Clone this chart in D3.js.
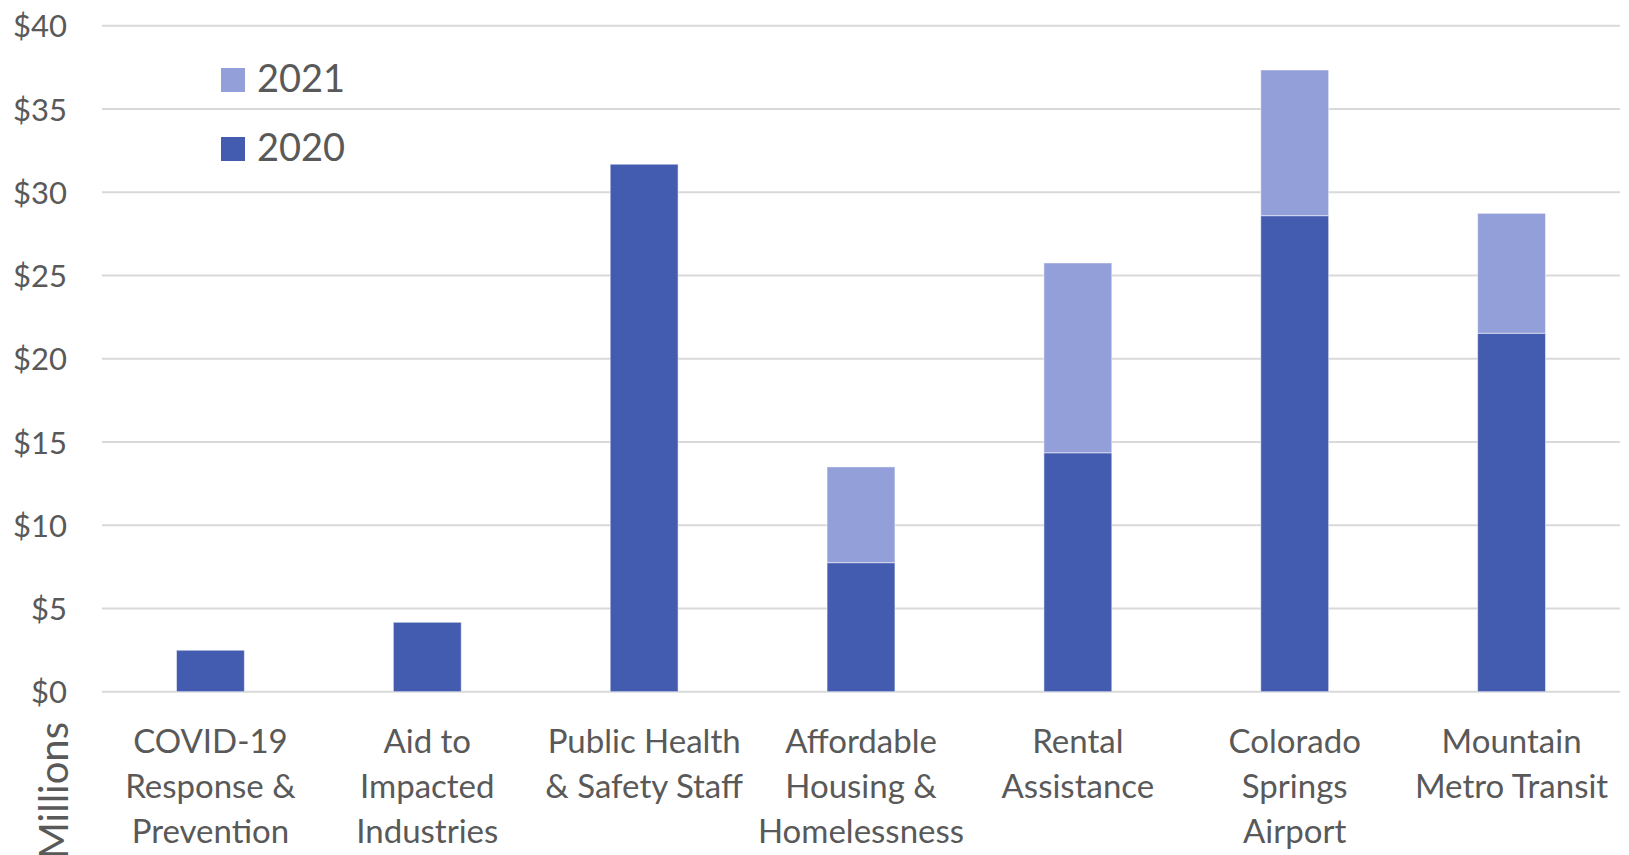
<!DOCTYPE html>
<html>
<head>
<meta charset="utf-8">
<script src="https://cdn.jsdelivr.net/npm/d3@7"></script>
<style>
  body { margin: 0; background: #fff; }
  svg text { font-family: Lato, "Open Sans", sans-serif; fill: #595959; }
</style>
</head>
<body>
<div id="chart"></div>
<script>
var width = 1629;
var height = 855;

// data, in millions of dollars
var categories = ["COVID-19 Response & Prevention", "Aid to Impacted Industries",
  "Public Health & Safety Staff", "Affordable Housing & Homelessness",
  "Rental Assistance", "Colorado Springs Airport", "Mountain Metro Transit"];
var labelLines = [
  ["COVID-19", "Response &", "Prevention"],
  ["Aid to", "Impacted", "Industries"],
  ["Public Health", "& Safety Staff"],
  ["Affordable", "Housing &", "Homelessness"],
  ["Rental", "Assistance"],
  ["Colorado", "Springs", "Airport"],
  ["Mountain", "Metro Transit"]
];
var values2020 = [2.49, 4.17, 31.68, 7.75, 14.35, 28.59, 21.53];
var values2021 = [0, 0, 0, 5.75, 11.4, 8.75, 7.2];
var yTicks = [0, 5, 10, 15, 20, 25, 30, 35, 40];
var seriesNames = ["2021", "2020"];
var colors = {"2020": "#445CAF", "2021": "#939FD8"};

var plot = {left: 102, right: 1620, top: 25.7, bottom: 691.7};

var svg = d3.select('#chart').append('svg')
  .attr('width', width).attr('height', height);

var x = d3.scaleBand()
  .domain(categories)
  .range([plot.left, plot.right])
  .paddingInner(0.687)
  .paddingOuter(0.3435);

var y = d3.scaleLinear()
  .domain([0, 40])
  .range([plot.bottom, plot.top]);

// gridlines
svg.append('g')
  .selectAll('line')
  .data(yTicks)
  .enter()
  .append('line')
  .attr('x1', plot.left).attr('x2', plot.right)
  .attr('y1', function(d){ return y(d); })
  .attr('y2', function(d){ return y(d); })
  .style('stroke', '#d9d9d9')
  .style('stroke-width', 2);

// y axis labels
var yAxis = d3.axisLeft(y).tickValues(yTicks).tickSize(0).tickPadding(0)
  .tickFormat(function(d){ return '$' + d; });
var yg = svg.append('g').attr('transform', 'translate(67,0)').call(yAxis);
yg.select('.domain').remove();
yg.selectAll('text')
  .attr('font-size', 31)
  .style('font-family', 'Lato, "Open Sans", sans-serif')
  .attr('fill', '#595959')
  .attr('dy', '0.36em');

// stacked bars
var rows = categories.map(function(c, i){
  return {cat: c, "2020": values2020[i], "2021": values2021[i]};
});
var stack = d3.stack().keys(["2020", "2021"]);
var layers = stack(rows);

svg.append('g')
  .selectAll('g')
  .data(layers)
  .enter()
  .append('g')
  .style('fill', function(d){ return colors[d.key]; })
  .selectAll('rect')
  .data(function(d){ return d.filter(function(p){ return p[1] > p[0]; }); })
  .enter()
  .append('rect')
  .attr('x', function(d){ return x(d.data.cat); })
  .attr('width', x.bandwidth())
  .attr('y', function(d){ return y(d[1]); })
  .attr('height', function(d){ return y(d[0]) - y(d[1]); })
  .style('stroke', '#ffffff')
  .style('stroke-opacity', 0.5)
  .style('stroke-width', 1);

// category labels
var labels = svg.append('g')
  .selectAll('text')
  .data(categories)
  .enter()
  .append('text')
  .attr('text-anchor', 'middle')
  .attr('font-size', 33)
  .attr('x', function(d){ return x(d) + x.bandwidth() / 2; });

labels.selectAll('tspan')
  .data(function(d, i){ return labelLines[i]; })
  .enter()
  .append('tspan')
  .attr('x', function(){ return d3.select(this.parentNode).attr('x'); })
  .attr('y', function(d, i){ return 753 + i * 45; })
  .text(function(d){ return d; });

// axis title (runs off the bottom edge like the original)
svg.append('text')
  .attr('transform', 'translate(68,722) rotate(-90)')
  .attr('text-anchor', 'end')
  .attr('font-size', 40)
  .text('Millions');

// legend
var legend = svg.append('g')
  .selectAll('g')
  .data(seriesNames)
  .enter()
  .append('g')
  .attr('transform', function(d, i){ return 'translate(221,' + (68 + i * 69) + ')'; });

legend.append('rect')
  .attr('width', 24).attr('height', 24)
  .style('fill', function(d){ return colors[d]; });

legend.append('text')
  .attr('x', 36)
  .attr('y', 24)
  .attr('font-size', 38)
  .text(function(d){ return d; });
</script>
</body>
</html>
